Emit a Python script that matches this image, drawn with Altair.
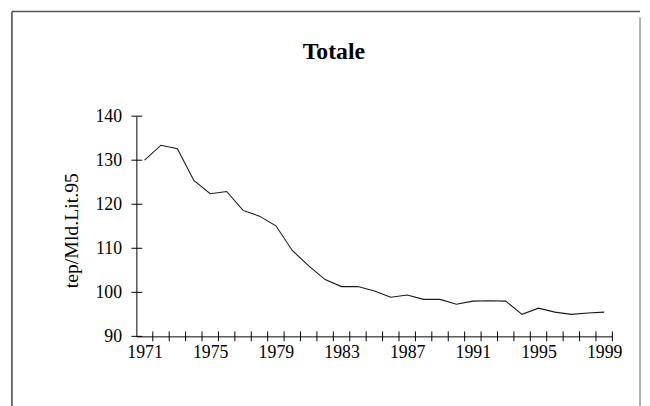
import altair as alt
import pandas as pd

# ---- data ----
title_text = "Totale"
years = list(range(1971, 2000))
values = [130.0, 133.4, 132.6, 125.4, 122.4, 122.9, 118.6, 117.3, 115.1, 109.5,
          106.0, 102.9, 101.3, 101.3, 100.3, 98.9, 99.4, 98.4, 98.4, 97.3,
          98.0, 98.1, 98.0, 95.0, 96.4, 95.5, 95.0, 95.3, 95.5]
x_label_years = [1971, 1975, 1979, 1983, 1987, 1991, 1995, 1999]
x_tick_bounds = [y + 0.5 for y in range(1971, 2000)]   # category boundaries
y_tick_values = [90, 100, 110, 120, 130, 140]

W, H = 482, 223
FONT = "Liberation Serif"

df = pd.DataFrame({"year": years, "value": values})
xscale = alt.Scale(domain=[1970.5, 1999.5], nice=False, zero=False)
yscale = alt.Scale(domain=[90, 140], nice=False, zero=False)

one = pd.DataFrame({"a": [0]})

frame_top = alt.Chart(one).mark_rule(color="#555555", strokeWidth=1.5).encode(
    x=alt.value(-126), x2=alt.value(510), y=alt.value(-106))
frame_left = alt.Chart(one).mark_rule(color="#444444", strokeWidth=1.5).encode(
    x=alt.value(-126), y=alt.value(-106), y2=alt.value(300))
frame_right = alt.Chart(one).mark_rule(color="#999999", strokeWidth=1.5).encode(
    x=alt.value(510), y=alt.value(-100), y2=alt.value(300))

title = alt.Chart(pd.DataFrame({"t": [title_text]})).mark_text(
    font=FONT, fontSize=24, fontWeight="bold", color="black",
    align="center", baseline="middle").encode(
    text="t:N", x=alt.value(200), y=alt.value(-65))

line = alt.Chart(df).mark_line(color="#1a1a1a", strokeWidth=1.1).encode(
    x=alt.X("year:Q", scale=xscale,
            axis=alt.Axis(values=x_label_years, format="d", title=None, grid=False,
                          ticks=False, tickSize=0, labelPadding=7, labelFont=FONT,
                          labelFontSize=18, labelColor="black", domainColor="black",
                          domainWidth=1, labelFlush=False, labelOverlap=False)),
    y=alt.Y("value:Q", scale=yscale,
            axis=alt.Axis(values=y_tick_values, format="d", title="tep/Mld.Lit.95",
                          grid=False, ticks=False, tickSize=0, labelPadding=15,
                          labelFont=FONT, labelFontSize=18, labelColor="black",
                          domainColor="black", domainWidth=1, labelFlush=False,
                          labelOverlap=False, titleFont=FONT, titleFontSize=20,
                          titleFontWeight="normal", titleColor="black",
                          titleX=-66, titleY=H / 2 + 4, titleAngle=270,
                          titleBaseline="middle", titleAlign="center")),
)

xticks = alt.Chart(pd.DataFrame({"t": x_tick_bounds})).mark_rule(
    color="black", strokeWidth=1).encode(
    x=alt.X("t:Q", scale=xscale, axis=None),
    y=alt.value(H - 5), y2=alt.value(H + 5))

yticks = alt.Chart(pd.DataFrame({"v": y_tick_values})).mark_rule(
    color="black", strokeWidth=1).encode(
    y=alt.Y("v:Q", scale=yscale, axis=None),
    x=alt.value(-5), x2=alt.value(6))

chart = alt.layer(frame_top, frame_left, frame_right, title, line, xticks, yticks).resolve_axis(
    x="independent", y="independent"
).properties(
    width=W, height=H,
    autosize=alt.AutoSizeParams(type="none"),
    padding={"left": 130, "top": 107, "right": 30, "bottom": 68},
).configure_view(stroke=None)

chart.save("out.html", embed_options={"renderer": "svg", "actions": False})
